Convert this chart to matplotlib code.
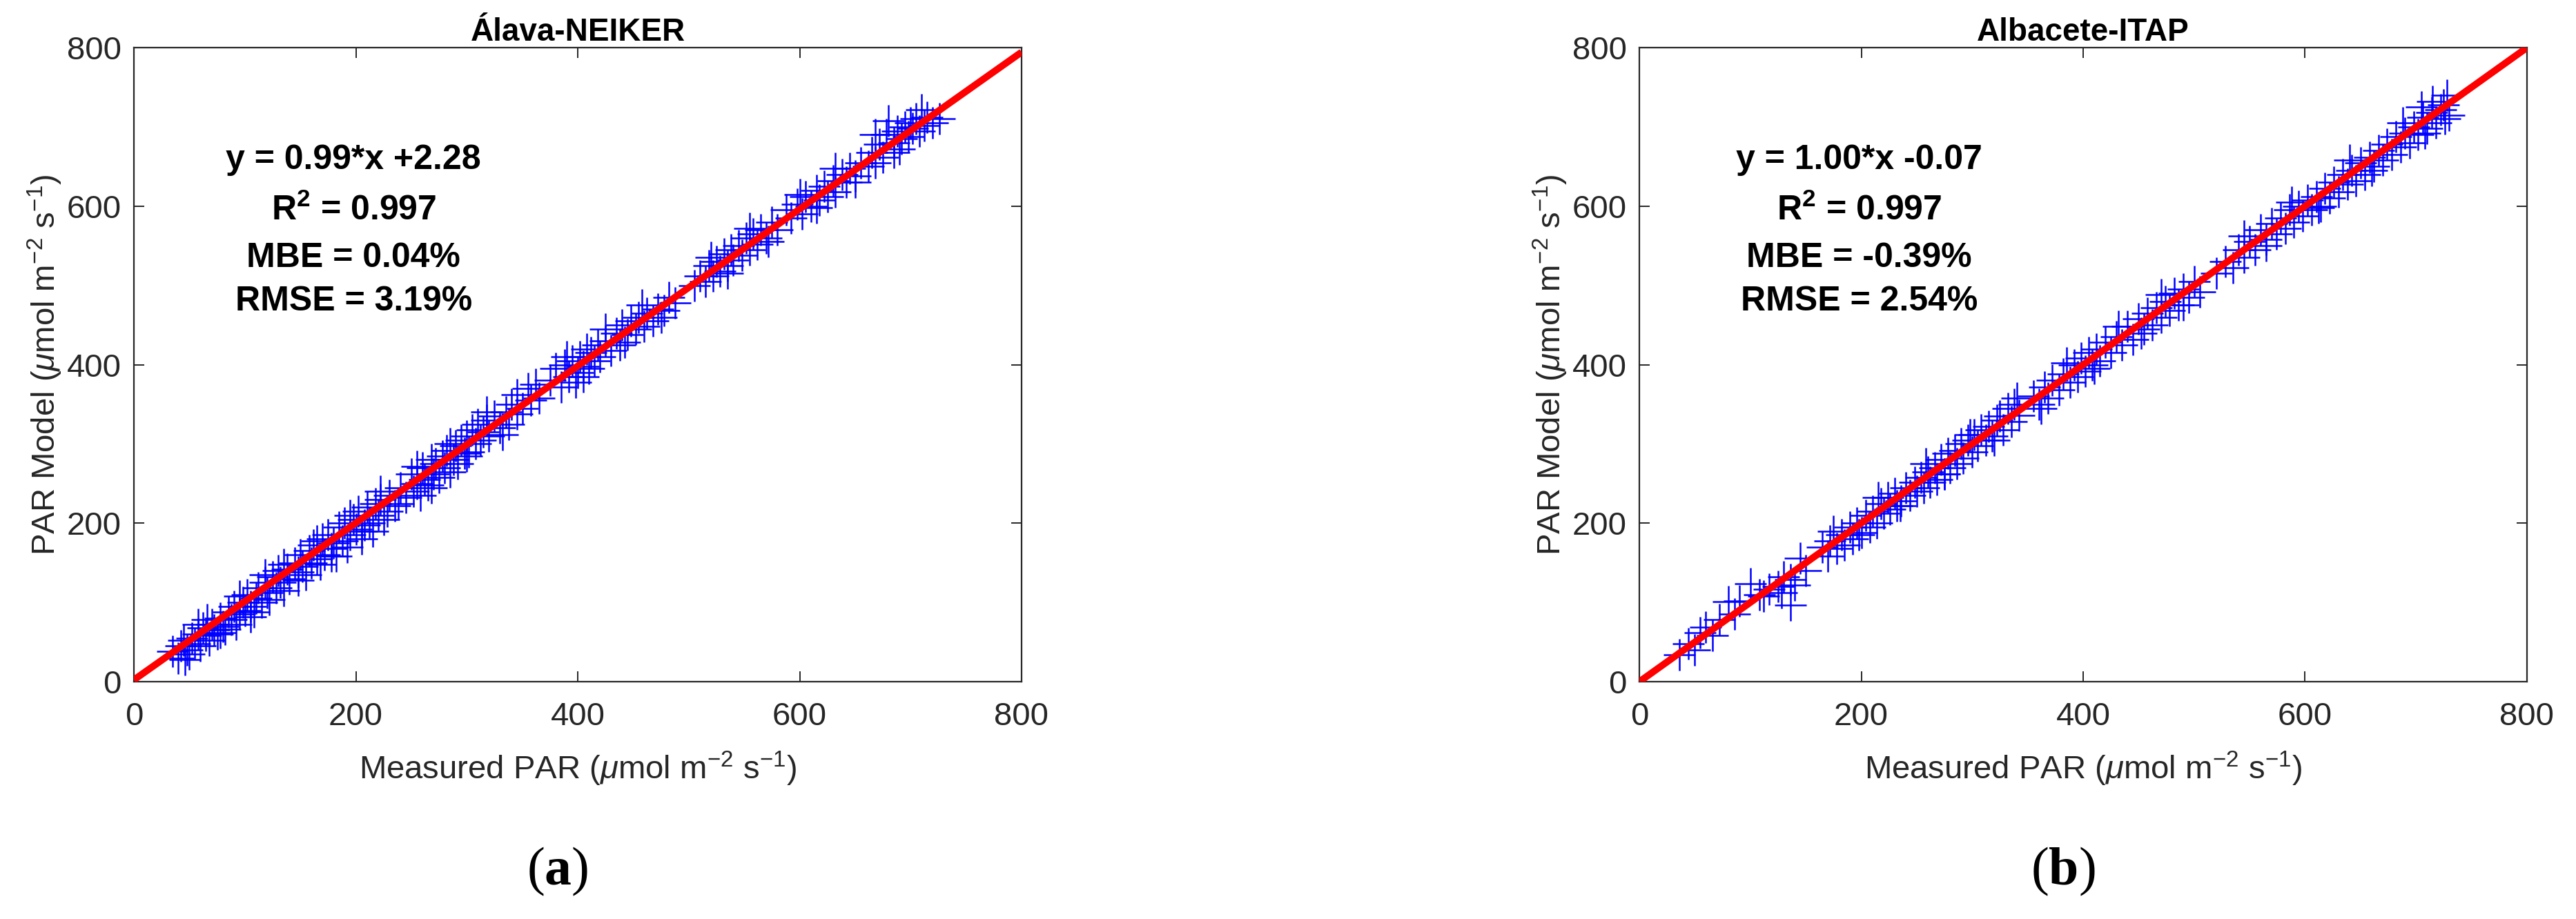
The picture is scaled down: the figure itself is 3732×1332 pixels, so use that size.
import matplotlib
matplotlib.use("Agg")
import matplotlib.pyplot as plt

# ---------------- data ----------------
titles = ["Álava-NEIKER", "Albacete-ITAP"]
panel_tags = ["a", "b"]
fit_slope = [0.99, 1.00]
fit_intercept = [2.28, -0.07]
stat_lines = [
    ["y = 0.99*x +2.28", "0.997", "MBE = 0.04%", "RMSE = 3.19%"],
    ["y = 1.00*x -0.07", "0.997", "MBE = -0.39%", "RMSE = 2.54%"],
]
ticks = [0, 200, 400, 600, 800]

alava_measured = [
    35, 40, 42, 45, 48, 50, 52, 55, 58, 60,
    62, 65, 68, 70, 72, 75, 78, 80, 82, 85,
    88, 90, 92, 95, 98, 100, 102, 105, 108, 110,
    112, 115, 118, 120, 122, 125, 128, 130, 132, 135,
    138, 140, 145, 148, 150, 152, 155, 158, 160, 162,
    165, 168, 170, 172, 175, 178, 180, 182, 185, 188,
    190, 192, 195, 198, 200, 202, 205, 208, 210, 212,
    215, 218, 220, 222, 225, 228, 230, 235, 240, 245,
    250, 252, 255, 258, 260, 262, 265, 268, 270, 272,
    275, 278, 280, 282, 285, 288, 290, 292, 295, 298,
    300, 302, 305, 308, 310, 312, 315, 318, 320, 325,
    330, 335, 338, 340, 345, 350, 355, 358, 362, 375,
    380, 385, 388, 392, 395, 398, 400, 402, 405, 408,
    410, 412, 415, 418, 420, 425, 430, 435, 438, 440,
    445, 448, 452, 455, 460, 462, 468, 472, 478, 482,
    488, 505, 510, 515, 518, 522, 525, 528, 532, 535,
    538, 540, 545, 548, 552, 555, 558, 562, 565, 570,
    575, 580, 588, 592, 598, 602, 605, 610, 615, 618,
    622, 625, 630, 632, 638, 642, 645, 650, 655, 662,
    665, 668, 672, 675, 678, 680, 685, 688, 692, 695,
    698, 702, 705, 708, 712, 715, 720, 726, 700, 690,
    46, 58, 66, 78, 95, 105, 118, 135, 148, 165,
    178, 195, 205, 222, 238, 255, 268, 285, 300, 318,
    332, 345, 365, 390, 405, 425, 442, 458, 475, 520,
    535, 555, 572, 600, 615, 632, 650, 668, 685, 710,
]
alava_model = [
    38, 30, 45, 52, 40, 35, 55, 48, 60, 45,
    68, 58, 52, 72, 65, 60, 80, 70, 66, 88,
    78, 95, 72, 85, 100, 90, 110, 95, 88, 105,
    118, 100, 125, 112, 104, 132, 118, 140, 125, 115,
    142, 130, 150, 138, 160, 145, 135, 165, 150, 172,
    155, 148, 180, 160, 185, 168, 175, 158, 195, 178,
    200, 170, 185, 205, 192, 215, 180, 198, 220, 200,
    190, 225, 210, 230, 205, 215, 235, 222, 245, 232,
    262, 240, 250, 235, 270, 255, 248, 280, 262, 275,
    258, 285, 270, 292, 265, 280, 298, 275, 305, 288,
    310, 290, 318, 300, 325, 305, 315, 330, 310, 335,
    320, 340, 325, 350, 338, 345, 370, 355, 375, 380,
    395, 372, 400, 385, 405, 378, 390, 410, 398, 420,
    395, 415, 405, 425, 410, 430, 418, 440, 425, 450,
    438, 455, 445, 460, 448, 465, 455, 470, 468, 485,
    478, 500, 512, 505, 525, 512, 530, 518, 540, 525,
    545, 532, 550, 538, 560, 545, 565, 552, 570, 560,
    580, 570, 595, 585, 602, 590, 612, 600, 620, 608,
    625, 612, 632, 618, 640, 630, 648, 638, 655, 650,
    668, 655, 678, 662, 690, 708, 680, 695, 685, 700,
    688, 698, 710, 695, 702, 712, 705, 710, 705, 672,
    28, 72, 78, 62, 108, 82, 135, 148, 128, 178,
    158, 210, 190, 240, 225, 272, 245, 300, 285, 340,
    312, 362, 358, 410, 385, 445, 428, 475, 460, 535,
    515, 572, 555, 615, 598, 648, 630, 690, 668, 722,
]

albacete_measured = [
    36, 44, 50, 60, 66, 72, 80, 86, 100, 108,
    117, 125, 130, 136, 136, 145, 150, 165, 170, 172,
    178, 182, 185, 190, 192, 196, 200, 204, 208, 210,
    214, 218, 220, 224, 226, 230, 232, 236, 240, 244,
    248, 250, 254, 256, 260, 262, 266, 268, 272, 275,
    278, 280, 284, 286, 290, 292, 296, 300, 302, 305,
    308, 312, 315, 318, 322, 325, 328, 332, 335, 338,
    342, 355, 360, 365, 368, 372, 378, 382, 388, 392,
    395, 398, 402, 405, 408, 412, 415, 420, 425, 430,
    435, 440, 445, 450, 455, 458, 462, 466, 470, 474,
    478, 482, 486, 490, 495, 500, 505, 520, 528, 535,
    540, 545, 550, 555, 560, 565, 570, 574, 578, 582,
    586, 590, 594, 598, 602, 606, 610, 614, 618, 622,
    626, 630, 634, 638, 642, 646, 650, 654, 658, 662,
    666, 670, 674, 678, 682, 686, 690, 694, 698, 702,
    706, 710, 714, 718, 722, 726, 730, 715, 705, 725,
    55, 90, 112, 128, 140, 175, 198, 215, 235, 258,
    275, 298, 320, 340, 362, 385, 410, 432, 452, 470,
    490, 545, 565, 588, 612, 640, 660, 688, 708, 728,
]
albacete_model = [
    34, 48, 40, 69, 58, 78, 101, 85, 124, 110,
    117, 120, 132, 97, 129, 156, 140, 170, 158, 178,
    168, 185, 172, 195, 180, 200, 188, 210, 195, 215,
    200, 225, 212, 232, 218, 238, 222, 228, 245, 235,
    252, 240, 258, 245, 265, 252, 270, 255, 280, 262,
    288, 270, 292, 275, 300, 282, 305, 290, 312, 298,
    318, 305, 322, 310, 330, 335, 318, 345, 328, 350,
    336, 360, 350, 372, 358, 380, 368, 388, 378, 400,
    385, 408, 392, 415, 400, 420, 405, 428, 415, 435,
    425, 448, 432, 458, 445, 465, 450, 472, 460, 480,
    468, 490, 475, 495, 485, 505, 492, 515, 530, 522,
    545, 535, 555, 545, 570, 558, 578, 565, 585, 572,
    595, 580, 600, 588, 608, 595, 612, 600, 622, 610,
    630, 618, 640, 628, 645, 632, 655, 640, 662, 650,
    670, 658, 678, 665, 688, 675, 692, 680, 700, 690,
    712, 698, 718, 705, 722, 710, 715, 732, 725, 728,
    62, 102, 108, 112, 122, 190, 185, 232, 222, 275,
    262, 312, 305, 358, 345, 402, 395, 448, 440, 488,
    475, 562, 550, 605, 598, 658, 645, 705, 692, 740,
]

measured = [alava_measured, albacete_measured]
model = [alava_model, albacete_model]

# ---------------- style ----------------
plt.rcParams["font.family"] = ["Liberation Sans", "DejaVu Sans"]
plt.rcParams["mathtext.fontset"] = "custom"
plt.rcParams["mathtext.rm"] = "Liberation Sans"
plt.rcParams["mathtext.it"] = "Liberation Sans:italic"
plt.rcParams["mathtext.bf"] = "Liberation Serif:bold"
plt.rcParams["mathtext.sf"] = "Liberation Sans:bold"

W, H, DPI = 3732, 1332, 200
fig = plt.figure(figsize=(W / DPI, H / DPI), dpi=DPI)
fig.patch.set_facecolor("white")

GRAY = "#262626"
axes_left_px = [194, 2375]
ax_w_px, ax_h_px = 1286, 919
ax_top_px = 69
stat_y = [647, 582, 523, 468]

for i in range(2):
    ax = fig.add_axes([axes_left_px[i] / W, 1 - (ax_top_px + ax_h_px) / H,
                       ax_w_px / W, ax_h_px / H])
    ax.plot(measured[i], model[i], linestyle="none", marker="+",
            markersize=16.5, markeredgewidth=0.9, color="#0000FF", zorder=2)
    xs = [ticks[0], ticks[-1]]
    ys = [fit_slope[i] * v + fit_intercept[i] for v in xs]
    ax.plot(xs, ys, color="#FF0000", linewidth=3.6, zorder=3,
            solid_capstyle="butt")
    ax.set_xlim(0, 800)
    ax.set_ylim(0, 800)
    ax.set_xticks(ticks)
    ax.set_yticks(ticks)
    ax.tick_params(direction="in", top=True, right=True, length=5.4,
                   width=0.7, color=GRAY, labelcolor=GRAY, labelsize=17)
    ax.tick_params(axis="x", pad=10.5)
    ax.tick_params(axis="y", pad=6.5)
    for sp in ax.spines.values():
        sp.set_linewidth(0.8)
        sp.set_color(GRAY)
    ax.set_title(titles[i], fontsize=16.5, fontweight="bold", pad=3.5)
    ax.set_xlabel(r"Measured PAR ($\mu$mol m$^{-2}$ s$^{-1}$)",
                  fontsize=17, color=GRAY, va="baseline")
    ax.xaxis.set_label_coords(0.5, -0.1535)
    ax.set_ylabel(r"PAR Model ($\mu$mol m$^{-2}$ s$^{-1}$)",
                  fontsize=17, color=GRAY, va="baseline")
    ax.yaxis.set_label_coords(-0.0886, 0.5)

    s = stat_lines[i]
    fs = 18
    ax.text(198, stat_y[0], s[0], ha="center", va="baseline",
            fontsize=fs, fontweight="bold")
    ax.text(198, stat_y[1], r"$\mathsf{R}^{\mathsf{2}}$ = " + s[1],
            ha="center", va="baseline", fontsize=fs, fontweight="bold")
    ax.text(198, stat_y[2], s[2], ha="center", va="baseline",
            fontsize=fs, fontweight="bold")
    ax.text(198, stat_y[3], s[3], ha="center", va="baseline",
            fontsize=fs, fontweight="bold")

    cx = (axes_left_px[i] + ax_w_px / 2 - 29) / W
    fig.text(cx, 1 - 1263 / H, r"($\mathbf{" + panel_tags[i] + r"}$)",
             family="Liberation Serif", fontsize=28, ha="center", va="center")

fig.savefig("out.png", dpi=DPI, facecolor="white")
